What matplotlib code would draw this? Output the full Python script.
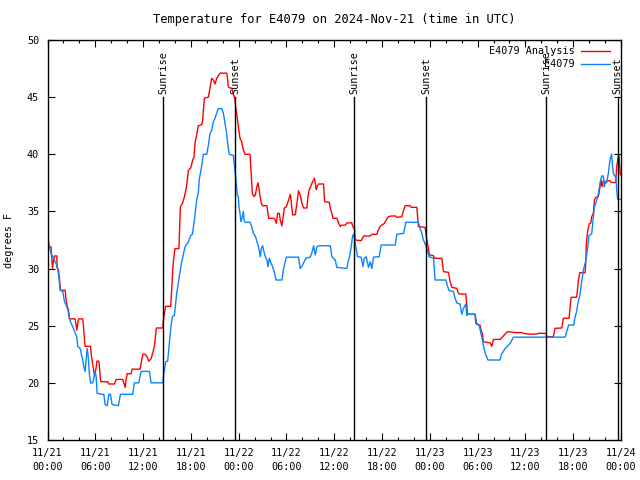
import numpy as np
import matplotlib
matplotlib.use("Agg")
import matplotlib.pyplot as plt
from matplotlib.ticker import MultipleLocator

# hours since 2024-11-21 00:00 UTC
analysis_hours = [
    0.05, 0.45, 0.5, 0.63, 0.75, 0.88, 1.17, 1.2, 1.38, 1.5, 1.63, 2.22, 2.34, 2.47, 2.63, 2.76,
    3.47, 3.68, 3.8, 3.9, 4.43, 4.64, 4.72, 5.4, 5.52, 5.73, 5.9, 6.1, 6.2, 6.44, 6.52, 6.65,
    6.73, 7.57, 7.7, 8.4, 8.62, 9.45, 9.58, 9.74, 9.87, 10.0, 10.5, 10.62, 11.62, 11.75, 11.96,
    12.25, 12.5, 12.71, 13.0, 13.21, 13.42, 13.67, 14.47, 14.6, 14.84, 15.47, 15.68, 15.8, 16.0,
    16.5, 16.68, 16.93, 17.2, 17.48, 17.69, 17.98, 18.23, 18.4, 18.52, 18.73, 18.94, 19.36,
    19.48, 19.69, 20.2, 20.4, 20.61, 20.82, 21.03, 21.24, 21.66, 22.5, 22.62, 22.7, 22.91,
    23.12, 23.33, 23.54, 23.66, 23.83, 23.96, 24.17, 24.38, 24.58, 24.8, 25.42, 25.55, 25.71,
    25.92, 26.09, 26.3, 26.45, 26.63, 26.84, 27.0, 27.55, 27.68, 27.76, 28.4, 28.6, 28.72,
    28.89, 29.1, 29.22, 29.43, 29.64, 29.73, 29.98, 30.27, 30.48, 30.6, 30.77, 31.1, 31.31,
    31.52, 31.73, 31.94, 32.15, 32.57, 32.7, 32.86, 33.11, 33.28, 33.53, 33.74, 33.87, 34.03,
    34.66, 34.79, 35.37, 35.5, 35.7, 35.83, 36.33, 36.54, 36.75, 36.87, 37.38, 37.6, 38.2,
    38.34, 38.55, 38.63, 39.38, 39.68, 40.51, 40.72, 41.35, 41.55, 41.77, 41.97, 42.31, 42.52,
    42.81, 43.15, 43.73, 43.86, 44.48, 44.7, 44.9, 45.53, 45.66, 46.37, 46.57, 47.41, 47.62,
    47.75, 47.95, 48.46, 48.58, 49.5, 49.71, 50.34, 50.55, 50.76, 51.38, 51.59, 51.8, 52.51,
    52.64, 52.72, 53.68, 53.77, 54.1, 54.3, 54.43, 54.6, 54.72, 55.57, 55.78, 55.99, 56.82,
    57.74, 58.7, 59.54, 59.75, 60.59, 61.5, 61.6, 62.6, 62.68, 63.5, 63.72, 64.56, 64.77,
    65.48, 65.73, 66.44, 66.65, 66.82, 67.49, 67.57, 67.65, 67.82, 67.99, 68.2, 68.32, 68.53,
    68.66, 68.83, 69.16, 69.37, 69.5, 69.62, 69.79, 70.0, 70.2, 70.62, 70.75, 71.33, 71.46,
    71.67, 71.75, 71.9,
]
analysis_temp = [
    31.9, 31.9, 31.3, 30.0, 30.7, 31.1, 31.1, 30.1, 29.9, 29.1, 28.1, 28.1, 27.2, 26.7, 26.4, 25.6,
    25.6, 24.6, 25.2, 25.6, 25.6, 23.9, 23.2, 23.2, 22.3, 21.4, 20.6, 21.3, 21.9, 21.9, 21.4, 20.3,
    20.1, 20.1, 19.9, 19.9, 20.3, 20.3, 20.0, 19.6, 20.3, 20.8, 20.8, 21.2, 21.2, 21.7, 22.5,
    22.5, 22.3, 21.9, 22.1, 22.6, 23.2, 24.8, 24.8, 25.8, 26.7, 26.7, 29.3, 30.6, 31.75,
    31.75, 35.4, 35.7, 36.3, 37.3, 38.6, 38.8, 39.5, 39.8, 41.0, 41.7, 42.5, 42.6,
    43.0, 44.9, 45.0, 45.8, 46.65, 46.5, 46.15, 46.65, 47.1, 47.1, 46.5, 45.9, 45.8,
    45.8, 45.3, 44.75, 43.9, 43.15, 42.4, 41.4, 41.1, 40.4, 40.0, 40.0, 38.6, 36.6,
    36.3, 36.44, 37.2, 37.5, 36.6, 35.7, 35.5, 35.5, 34.83, 34.4, 34.4, 34.25, 33.96,
    34.83, 34.83, 34.25, 33.73, 34.8, 35.3, 35.4, 36.0, 36.5, 35.85, 34.7, 34.7, 35.7,
    36.8, 36.44, 35.7, 35.3, 35.3, 36.3, 36.9, 37.3, 37.6, 37.9, 36.9, 37.2, 37.4,
    37.4, 35.85, 35.8, 35.3, 34.83, 34.4, 34.4, 34.0, 33.67, 33.8, 33.8, 34.0, 34.0,
    33.67, 33.5, 32.5, 32.44, 32.85, 32.85, 33.0, 33.0, 33.4, 33.7, 33.8, 33.96, 34.25,
    34.54, 34.6, 34.6, 34.48, 34.54, 35.1, 35.5, 35.5, 35.36, 35.36, 33.67, 33.6, 32.5,
    32.06, 31.2, 31.13, 30.9, 30.9, 29.73, 29.67, 28.85, 28.36, 28.27, 27.83, 27.77, 27.77,
    26.81, 26.0, 26.0, 25.2, 25.06, 25.06, 24.6, 24.3, 23.6, 23.5, 23.2, 23.8, 23.8,
    24.48, 24.4, 24.4, 24.33, 24.25, 24.28, 24.33, 24.33, 24.04, 24.04, 24.77, 24.8, 25.65,
    25.65, 27.48, 27.5, 29.0, 29.64, 29.64, 30.4, 32.2, 33.3, 33.9, 33.96, 34.54, 34.83,
    36.0, 36.23, 36.29, 37.22, 37.75, 37.17, 37.69, 37.46, 37.69, 37.69, 37.55, 37.52, 38.92,
    39.85, 39.85, 38.2,
]

obs_hours = [
    0.0, 0.1, 0.25, 0.46, 0.67, 0.88, 1.1, 1.3, 1.42, 1.59, 1.92, 2.13, 2.34, 2.55, 2.76, 2.97,
    3.18, 3.39, 3.68, 3.8, 4.1, 4.22, 4.43, 4.56, 4.72, 4.85, 4.98, 5.1, 5.27, 5.4, 5.69, 5.82,
    5.98, 6.1, 6.23, 6.73, 7.07, 7.24, 7.49, 7.7, 7.9, 8.11, 8.9, 9.16, 10.7, 10.91, 11.46,
    11.62, 11.75, 12.8, 13.0, 14.47, 14.6, 14.84, 15.09, 15.3, 15.5, 15.68, 15.93, 16.22, 16.5,
    16.85, 17.27, 17.69, 17.98, 18.19, 18.44, 18.73, 18.94, 19.07, 19.27, 19.57, 19.99, 20.2,
    20.4, 20.61, 20.82, 21.03, 21.24, 21.45, 21.87, 22.08, 22.28, 22.49, 22.7, 22.83, 23.33,
    23.54, 23.66, 23.83, 23.96, 24.04, 24.17, 24.29, 24.46, 24.59, 24.71, 24.88, 25.42, 25.63,
    25.84, 26.09, 26.3, 26.5, 26.72, 26.84, 27.01, 27.13, 27.34, 27.55, 27.68, 27.85, 28.05,
    28.26, 28.51, 28.68, 29.43, 29.64, 29.98, 31.52, 31.73, 31.94, 32.15, 32.44, 32.99, 33.2,
    33.41, 33.62, 33.82, 34.03, 35.5, 35.7, 36.12, 36.33, 37.59, 37.71, 37.92, 38.13, 38.3,
    38.42, 38.55, 38.71, 38.92, 39.38, 39.6, 39.76, 40.01, 40.3, 40.51, 40.72, 40.93, 41.64,
    41.89, 43.65, 43.86, 44.7, 44.99, 46.57, 46.78, 46.99, 47.2, 47.41, 47.62, 47.91, 48.46,
    48.66, 50.0, 50.25, 50.42, 50.96, 51.17, 51.42, 51.8, 52.01, 52.22, 52.51, 52.64, 52.76,
    53.68, 53.89, 54.18, 54.43, 54.6, 54.8, 55.0, 55.3, 56.8, 57.0, 57.45, 57.74, 58.08, 58.5,
    64.98, 65.18, 65.43, 66.08, 66.2, 66.44, 66.6, 66.82, 67.07, 67.28, 67.55, 67.78, 67.99,
    68.32, 68.45, 68.66, 68.83, 69.08, 69.2, 69.37, 69.58, 69.79, 69.91, 70.0, 70.2, 70.41,
    70.62, 70.83, 70.91, 71.04, 71.2, 71.33, 71.41, 71.5, 71.58, 71.9,
]
obs_temp = [
    33.5, 32.5, 31.9, 31.3, 31.0, 30.7, 30.4, 29.9, 29.3, 28.1, 28.0, 27.1, 26.8, 26.4, 25.6, 25.2,
    24.9, 24.5, 24.0, 23.2, 23.0, 22.6, 22.0, 21.4, 21.0, 22.0, 23.0, 22.4, 20.7, 20.0, 20.0, 20.4,
    21.0, 20.6, 19.1, 19.0, 19.0, 18.1, 18.0, 19.0, 19.0, 18.1, 18.0, 19.0, 19.0, 20.0, 20.0,
    20.6, 21.0, 21.0, 20.0, 20.0, 20.8, 21.85, 21.9, 23.5, 24.9, 25.8, 25.9, 27.8, 29.1,
    30.6, 31.9, 32.35, 32.9, 33.0, 34.25, 36.0, 36.7, 37.9, 38.6, 40.0, 40.0, 40.8,
    41.8, 42.1, 42.85, 43.15, 43.6, 44.0, 44.0, 43.6, 42.7, 41.8, 40.5, 40.0, 39.9,
    38.6, 37.75, 36.4, 36.3, 35.4, 34.8, 34.1, 34.5, 35.0, 34.1, 34.05, 34.05, 33.7,
    33.1, 32.85, 32.35, 31.86, 31.04, 31.77, 32.0, 31.6, 31.04, 30.75, 30.17, 30.9, 30.5,
    30.17, 29.6, 29.0, 29.0, 30.0, 31.0, 31.0, 30.0, 30.2, 30.5, 30.9, 31.0, 31.4,
    32.0, 31.2, 31.9, 32.0, 32.0, 31.04, 30.75, 30.1, 30.0, 30.5, 31.04, 31.9, 32.85,
    33.0, 32.65, 31.9, 31.04, 31.0, 30.17, 30.9, 31.04, 30.1, 30.6, 30.0, 31.0, 31.04,
    32.06, 32.06, 33.0, 33.08, 34.05, 34.05, 33.52, 33.08, 32.5, 32.15, 31.77, 31.04, 30.9,
    29.0, 29.0, 28.4, 28.07, 27.98, 27.4, 26.96, 26.9, 26.0, 26.5, 26.9, 25.9, 26.0,
    26.0, 25.2, 25.06, 24.3, 23.75, 23.0, 22.5, 22.0, 22.0, 22.5, 23.0, 23.2, 23.46, 24.0,
    24.0, 24.48, 25.06, 25.06, 25.65, 26.3, 27.0, 27.6, 28.86, 29.9, 30.6, 31.6, 32.9,
    33.03, 33.96, 35.36, 35.7, 36.29, 36.7, 37.5, 38.1, 38.1, 37.17, 37.6, 37.5, 38.33,
    39.5, 40.03, 39.2, 38.33, 38.1, 38.04, 37.5, 36.58, 36.06, 36.06,
]

sun_hours = [14.5, 23.55, 38.53, 47.58, 62.6, 71.6]
sun_labels = ["Sunrise", "Sunset", "Sunrise", "Sunset", "Sunrise", "Sunset"]

tick_hours = list(range(0, 73, 6))
tick_labels = [
    "11/21\n00:00", "11/21\n06:00", "11/21\n12:00", "11/21\n18:00",
    "11/22\n00:00", "11/22\n06:00", "11/22\n12:00", "11/22\n18:00",
    "11/23\n00:00", "11/23\n06:00", "11/23\n12:00", "11/23\n18:00",
    "11/24\n00:00",
]

plt.rcParams["font.family"] = "DejaVu Sans Mono"
plt.rcParams["font.size"] = 7.3

fig = plt.figure(figsize=(6.4, 4.8), dpi=100)
ax = fig.add_axes([47.5 / 640, 40 / 480, 573.5 / 640, 400 / 480])

ax.plot(analysis_hours, analysis_temp, color="#ff0000", lw=1.0, label="E4079 Analysis")
ax.plot(obs_hours, obs_temp, color="#0a84ff", lw=1.0, label="E4079")

for t, lab in zip(sun_hours, sun_labels):
    ax.plot([t, t], [15, 45], color="black", lw=1.0)
    ax.text(t, 45.3, lab, rotation=90, ha="center", va="bottom")

ax.set_xlim(0, 72)
ax.set_ylim(15, 50)
ax.set_xticks(tick_hours)
ax.set_xticklabels(tick_labels, linespacing=1.45)
ax.xaxis.set_minor_locator(MultipleLocator(2))
ax.set_yticks(range(15, 51, 5))
ax.tick_params(which="both", direction="in", top=True, right=True, width=0.8)
ax.tick_params(which="major", length=5, pad=6)
ax.tick_params(which="minor", length=2.5)
ax.tick_params(axis="y", pad=6)
for s in ax.spines.values():
    s.set_linewidth(1.0)

ax.set_ylabel("degrees F", labelpad=9)
ax.set_title("Temperature for E4079 on 2024-Nov-21 (time in UTC)", pad=12)

ax.legend(loc="upper right", bbox_to_anchor=(0.988, 0.995), frameon=False, markerfirst=False,
          handlelength=2.9, handletextpad=0.6, labelspacing=0.3, borderpad=0.4,
          borderaxespad=0)

fig.savefig("out.png", dpi=100)
